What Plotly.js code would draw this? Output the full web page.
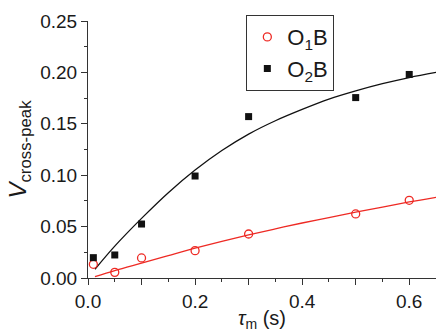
<!DOCTYPE html>
<html>
<head>
<meta charset="utf-8">
<script src="https://cdn.plot.ly/plotly-3.0.1.min.js"></script>
<style>
html,body{margin:0;padding:0;background:#fff;}
#chart{width:436px;height:333px;}
</style>
</head>
<body>
<div id="chart"></div>
<script>
// measured data
var tau = [0.01, 0.05, 0.1, 0.2, 0.3, 0.5, 0.6];
var o1b = [0.0133, 0.0055, 0.0195, 0.0266, 0.0428, 0.0623, 0.0756];
var o2b = [0.0198, 0.0224, 0.0525, 0.0992, 0.157, 0.1755, 0.198];

// fitted curves
var fitTau = [0.013, 0.05, 0.1, 0.15, 0.2, 0.25, 0.3, 0.35, 0.4, 0.45, 0.5, 0.55, 0.6, 0.65];
var fitO1 = [0.0013, 0.0072, 0.0145, 0.0218, 0.029, 0.0357, 0.042, 0.0478, 0.0535, 0.0588, 0.064, 0.069, 0.074, 0.0785];
var fitO2 = [0.0085, 0.031, 0.058, 0.083, 0.105, 0.124, 0.140, 0.153, 0.164, 0.174, 0.182, 0.189, 0.195, 0.200];

var xTickVals = [0, 0.1, 0.2, 0.3, 0.4, 0.5, 0.6];
var xTickText = ['0.0', '', '0.2', '', '0.4', '', '0.6'];

var red = '#ee2a24';
var font = 'Liberation Sans, Arial, sans-serif';

var traces = [
  {x: fitTau, y: fitO1, mode: 'lines', line: {color: red, width: 1.3, shape: 'spline'}, showlegend: false, hoverinfo: 'skip'},
  {x: fitTau, y: fitO2, mode: 'lines', line: {color: '#111', width: 1.3, shape: 'spline'}, showlegend: false, hoverinfo: 'skip'},
  {x: tau, y: o1b, mode: 'markers', name: 'O<sub>1</sub>B',
   marker: {symbol: 'circle-open', size: 8, color: red, line: {color: red, width: 1.3}}},
  {x: tau, y: o2b, mode: 'markers', name: 'O<sub>2</sub>B',
   marker: {symbol: 'square', size: 7, color: '#111'}}
];

var layout = {
  width: 436, height: 333,
  margin: {l: 88, r: 0, t: 21, b: 55},
  paper_bgcolor: '#fff', plot_bgcolor: '#fff',
  font: {family: font, color: '#1a1a1a', size: 19},
  showlegend: true,
  legend: {
    x: 0.455, y: 1.023, xanchor: 'left', yanchor: 'top',
    bordercolor: '#333', borderwidth: 1, bgcolor: '#fff',
    font: {family: font, size: 22, color: '#1a1a1a'},
    itemwidth: 30, tracegroupgap: 0
  },
  xaxis: {
    range: [0, 0.65], showgrid: false, zeroline: false,
    showline: true, linecolor: '#333', linewidth: 1,
    ticks: 'outside', ticklen: 6, tickwidth: 1, tickcolor: '#333',
    tickmode: 'array', tickvals: xTickVals, ticktext: xTickText,
    tickfont: {family: font, size: 19, color: '#1a1a1a'},
    minor: {tickmode: 'linear', tick0: 0, dtick: 0.05, ticks: 'outside', ticklen: 3, tickcolor: '#333', showgrid: false},
    title: {text: '<i>τ</i><sub>m</sub> (s)', font: {family: font, size: 20, color: '#1a1a1a'}, standoff: 0}
  },
  yaxis: {
    range: [0, 0.25], showgrid: false, zeroline: false,
    showline: true, linecolor: '#333', linewidth: 1,
    ticks: 'outside', ticklen: 6, tickwidth: 1, tickcolor: '#333',
    dtick: 0.05, tick0: 0, tickformat: '.2f',
    tickfont: {family: font, size: 19, color: '#1a1a1a'},
    minor: {tickmode: 'linear', tick0: 0, dtick: 0.025, ticks: 'outside', ticklen: 3, tickcolor: '#333', showgrid: false},
    title: {text: '<i>V</i><sub>cross-peak</sub>', font: {family: font, size: 24, color: '#1a1a1a'}, standoff: 6}
  }
};

Plotly.newPlot('chart', traces, layout, {displayModeBar: false, staticPlot: true});
</script>
</body>
</html>
